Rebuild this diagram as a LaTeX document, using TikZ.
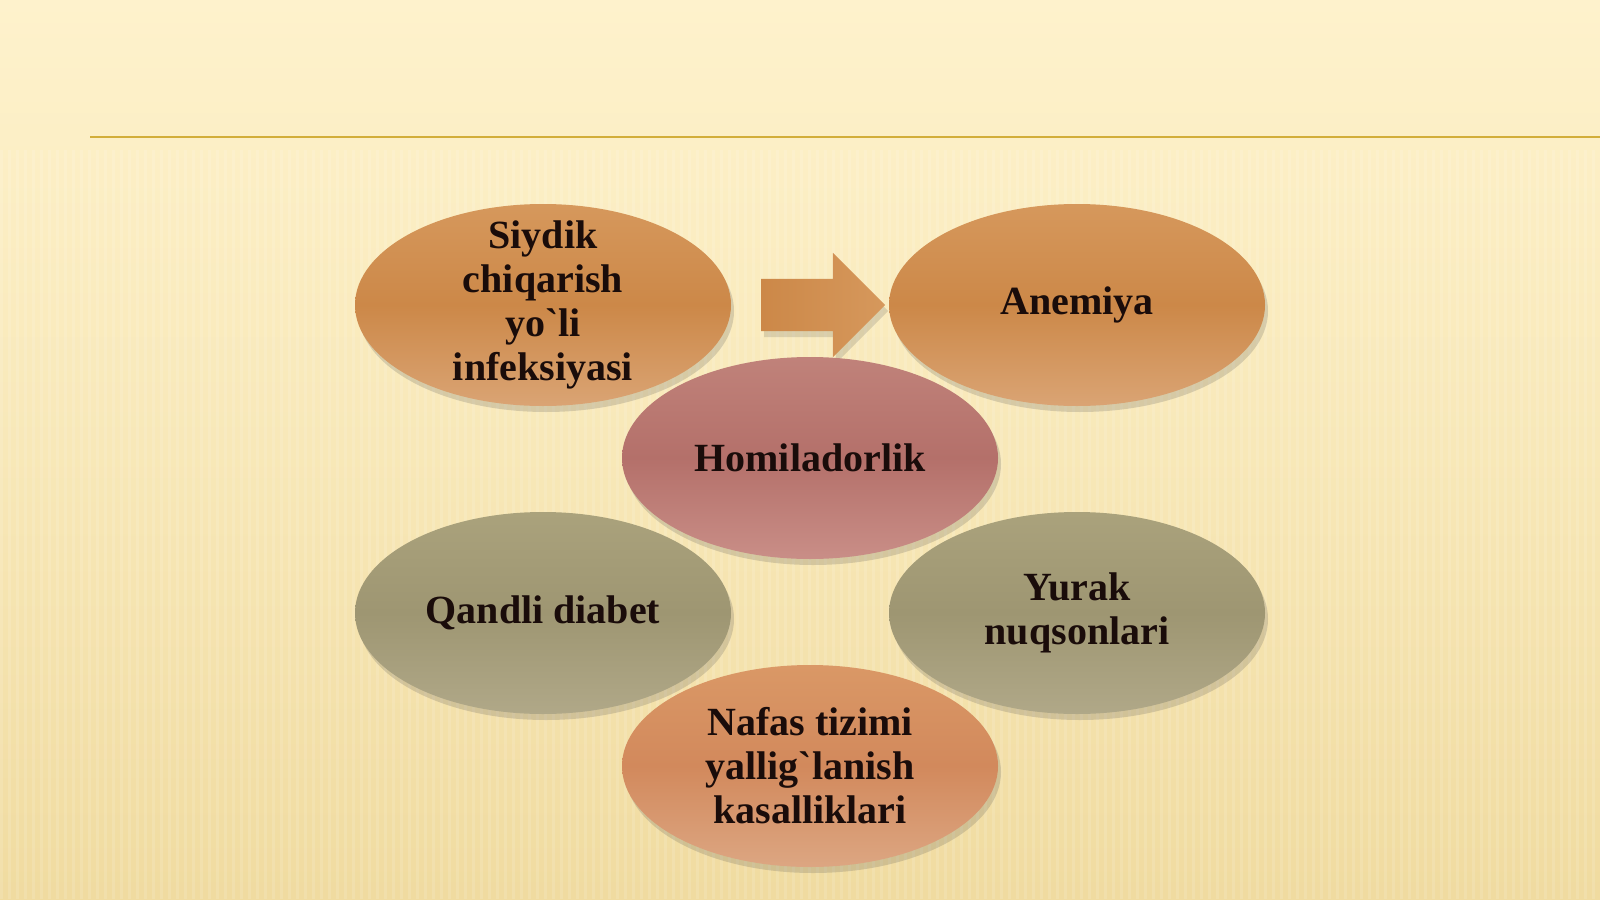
\documentclass[tikz,border=0pt]{standalone}
\usepackage{fontspec}
\setmainfont{Liberation Serif}
\usetikzlibrary{shapes.geometric,shapes.arrows,shadows}
\definecolor{bgtop}{HTML}{FEF2CC}
\definecolor{bgmid}{HTML}{F8E8B8}
\definecolor{bgbot}{HTML}{F0DBA0}
\definecolor{rule}{HTML}{D2AE3A}
\definecolor{orTop}{HTML}{D6985C}
\definecolor{orMid}{HTML}{CC8848}
\definecolor{orBot}{HTML}{DAA474}
\definecolor{piTop}{HTML}{C0827A}
\definecolor{piMid}{HTML}{B4706A}
\definecolor{piBot}{HTML}{C98E87}
\definecolor{olTop}{HTML}{AAA27C}
\definecolor{olMid}{HTML}{9E9672}
\definecolor{olBot}{HTML}{B0A888}
\definecolor{naTop}{HTML}{DA9866}
\definecolor{naMid}{HTML}{D2895C}
\definecolor{naBot}{HTML}{DCA682}
\definecolor{ink}{HTML}{1A0C0A}
\tikzset{
  blob/.style={ellipse, minimum width=376pt, minimum height=202pt, inner sep=0pt,
    drop shadow={shadow xshift=3pt, shadow yshift=-6pt, opacity=0.2, fill=black!70}},
  blobtext/.style={align=center, text=ink, inner sep=0pt,
    font=\fontsize{40}{44}\selectfont\bfseries},
  orangeblob/.style={blob, top color=orTop, bottom color=orBot, middle color=orMid},
  pinkblob/.style={blob, top color=piTop, bottom color=piBot, middle color=piMid},
  oliveblob/.style={blob, top color=olTop, bottom color=olBot, middle color=olMid},
  nafasblob/.style={blob, top color=naTop, bottom color=naBot, middle color=naMid},
  blockarrow/.style={single arrow, draw=none, minimum height=124pt, inner sep=0pt,
    inner ysep=26pt, single arrow head extend=26pt, single arrow tip angle=90,
    left color=orMid, right color=orTop,
    drop shadow={shadow xshift=3pt, shadow yshift=-6pt, opacity=0.18, fill=black!70}},
}
\newcommand{\gr}{\textasciigrave}
\begin{document}
\begin{tikzpicture}[x=1pt,y=-1pt]
\useasboundingbox (0,0) rectangle (1600,899);
\shade[top color=bgtop, bottom color=bgbot, middle color=bgmid] (0,0) rectangle (1600,899);
\foreach \i in {0,...,199} {
  \fill[white, opacity=0.12] (\i*8,150) rectangle (\i*8+3,899);
}
\coordinate (ruleA) at (90,137);
\coordinate (ruleB) at (1600,137);
\draw[rule, line width=2pt] (ruleA) -- (ruleB);

\node[orangeblob, label={[blobtext]center:Siydik\\chiqarish\\yo\gr li\\infeksiyasi}] (siydik) at (543,305) {};
\node[blockarrow] (arrow) at (810,305) {};
\node[orangeblob, label={[blobtext]center:Anemiya}] (anemiya) at (1077,305) {};
\node[oliveblob, label={[blobtext]center:Qandli diabet}] (diabet) at (543,613) {};
\node[oliveblob, label={[blobtext]center:Yurak\\nuqsonlari}] (yurak) at (1077,613) {};
\node[pinkblob, label={[blobtext]center:Homiladorlik}] (homila) at (810,458) {};
\node[nafasblob, label={[blobtext]center:Nafas tizimi\\yallig\gr lanish\\kasalliklari}] (nafas) at (810,766) {};
\end{tikzpicture}
\end{document}
